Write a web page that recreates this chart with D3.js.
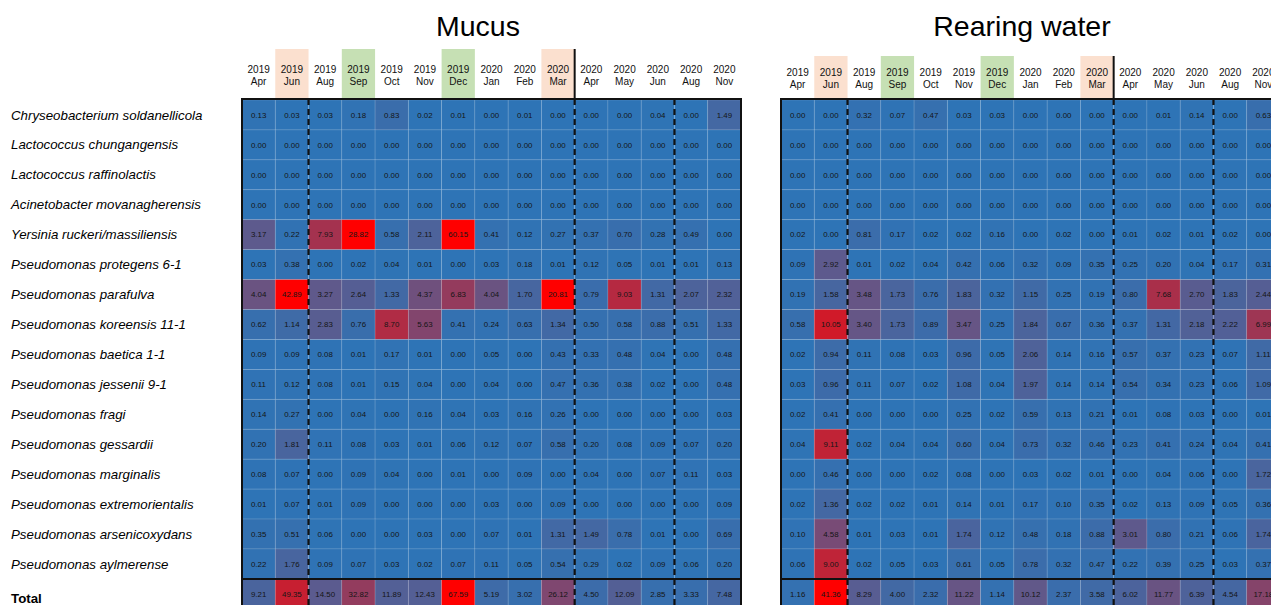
<!DOCTYPE html>
<html><head><meta charset="utf-8">
<script src="https://cdn.jsdelivr.net/npm/d3@7"></script>
<style>
body{margin:0;background:#fff;overflow:hidden}
text{font-family:"Liberation Sans",Arial,sans-serif}
</style></head>
<body>
<svg id="chart" width="1271" height="605"></svg>
<script>
const years = ["2019","2019","2019","2019","2019","2019","2019","2020","2020","2020","2020","2020","2020","2020","2020"];
const months = ["Apr","Jun","Aug","Sep","Oct","Nov","Dec","Jan","Feb","Mar","Apr","May","Jun","Aug","Nov"];
const highlight = ["","peach","","green","","","green","","","peach","","","","",""];
const dashedAfter = [1, 9, 12];
const solidHeaderAfter = [9];
const taxa = ["Chryseobacterium soldanellicola","Lactococcus chungangensis","Lactococcus raffinolactis","Acinetobacter movanagherensis","Yersinia ruckeri/massiliensis","Pseudomonas protegens 6-1","Pseudomonas parafulva","Pseudomonas koreensis 11-1","Pseudomonas baetica 1-1","Pseudomonas jessenii 9-1","Pseudomonas fragi","Pseudomonas gessardii","Pseudomonas marginalis","Pseudomonas extremorientalis","Pseudomonas arsenicoxydans","Pseudomonas aylmerense"];

const mucusValues = [
[0.13,0.03,0.03,0.18,0.83,0.02,0.01,0.00,0.01,0.00,0.00,0.00,0.04,0.00,1.49],
[0,0,0,0,0,0,0,0,0,0,0,0,0,0,0],
[0,0,0,0,0,0,0,0,0,0,0,0,0,0,0],
[0,0,0,0,0,0,0,0,0,0,0,0,0,0,0],
[3.17,0.22,7.93,28.82,0.58,2.11,60.15,0.41,0.12,0.27,0.37,0.70,0.28,0.49,0.00],
[0.03,0.38,0.00,0.02,0.04,0.01,0.00,0.03,0.18,0.01,0.12,0.05,0.01,0.01,0.13],
[4.04,42.89,3.27,2.64,1.33,4.37,6.83,4.04,1.70,20.81,0.79,9.03,1.31,2.07,2.32],
[0.62,1.14,2.83,0.76,8.70,5.63,0.41,0.24,0.63,1.34,0.50,0.58,0.88,0.51,1.33],
[0.09,0.09,0.08,0.01,0.17,0.01,0.00,0.05,0.00,0.43,0.33,0.48,0.04,0.00,0.48],
[0.11,0.12,0.08,0.01,0.15,0.04,0.00,0.04,0.00,0.47,0.36,0.38,0.02,0.00,0.48],
[0.14,0.27,0.00,0.04,0.00,0.16,0.04,0.03,0.16,0.26,0.00,0.00,0.00,0.00,0.03],
[0.20,1.81,0.11,0.08,0.03,0.01,0.06,0.12,0.07,0.58,0.20,0.08,0.09,0.07,0.20],
[0.08,0.07,0.00,0.09,0.04,0.00,0.01,0.00,0.09,0.00,0.04,0.00,0.07,0.11,0.03],
[0.01,0.07,0.01,0.09,0.00,0.00,0.00,0.03,0.00,0.09,0.00,0.00,0.00,0.00,0.09],
[0.35,0.51,0.06,0.00,0.00,0.03,0.00,0.07,0.01,1.31,1.49,0.78,0.01,0.00,0.69],
[0.22,1.76,0.09,0.07,0.03,0.02,0.07,0.11,0.05,0.54,0.29,0.02,0.09,0.06,0.20]
];
const mucusTotal = [9.21,49.35,14.50,32.82,11.89,12.43,67.59,5.19,3.02,26.12,4.50,12.09,2.85,3.33,7.48];

const waterValues = [
[0.00,0.00,0.32,0.07,0.47,0.03,0.03,0.00,0.00,0.00,0.00,0.01,0.14,0.00,0.63],
[0,0,0,0,0,0,0,0,0,0,0,0,0,0,0],
[0,0,0,0,0,0,0,0,0,0,0,0,0,0,0],
[0,0,0,0,0,0,0,0,0,0,0,0,0,0,0],
[0.02,0.00,0.81,0.17,0.02,0.02,0.16,0.00,0.02,0.00,0.01,0.02,0.01,0.02,0.00],
[0.09,2.92,0.01,0.02,0.04,0.42,0.06,0.32,0.09,0.35,0.25,0.20,0.04,0.17,0.31],
[0.19,1.58,3.48,1.73,0.76,1.83,0.32,1.15,0.25,0.19,0.80,7.68,2.70,1.83,2.44],
[0.58,10.05,3.40,1.73,0.89,3.47,0.25,1.84,0.67,0.36,0.37,1.31,2.18,2.22,6.99],
[0.02,0.94,0.11,0.08,0.03,0.96,0.05,2.06,0.14,0.16,0.57,0.37,0.23,0.07,1.11],
[0.03,0.96,0.11,0.07,0.02,1.08,0.04,1.97,0.14,0.14,0.54,0.34,0.23,0.06,1.09],
[0.02,0.41,0.00,0.00,0.00,0.25,0.02,0.59,0.13,0.21,0.01,0.08,0.03,0.00,0.01],
[0.04,9.11,0.02,0.04,0.04,0.60,0.04,0.73,0.32,0.46,0.23,0.41,0.24,0.04,0.41],
[0.00,0.46,0.00,0.00,0.02,0.08,0.00,0.03,0.02,0.01,0.00,0.04,0.06,0.00,1.72],
[0.02,1.36,0.02,0.02,0.01,0.14,0.01,0.17,0.10,0.35,0.02,0.13,0.09,0.05,0.36],
[0.10,4.58,0.01,0.03,0.01,1.74,0.12,0.48,0.18,0.88,3.01,0.80,0.21,0.06,1.74],
[0.06,9.00,0.02,0.05,0.03,0.61,0.05,0.78,0.32,0.47,0.22,0.39,0.25,0.03,0.37]
];
const waterTotal = [1.16,41.36,8.29,4.00,2.32,11.22,1.14,10.12,2.37,3.58,6.02,11.77,6.39,4.54,17.18];

const svg = d3.select("#chart");
const BLUE = "rgb(46,116,182)", RED = "rgb(255,0,0)";
const hlColor = {peach:"#FBE0CF", green:"#C6E0B4"};
const rowKeys = taxa.concat(["Total"]);

const y = d3.scaleBand().domain(rowKeys).range([100, 100 + 17*29.93]);

// row labels
svg.append("g").selectAll("text").data(rowKeys).join("text")
  .attr("x", 11)
  .attr("y", d => y(d) + y.bandwidth()/2 + (d==="Total" ? 9 : 4.6))
  .attr("font-size", 13.3)
  .attr("font-style", d => d==="Total" ? "normal" : "italic")
  .attr("font-weight", d => d==="Total" ? "bold" : "normal")
  .attr("fill", "#000")
  .text(d => d);

function panel(opts){
  const {x0, title, titleX, values, totals, taxaMax, totalMax, hdrTop, yearY} = opts;
  const x = d3.scaleBand().domain(d3.range(15)).range([x0, x0 + 499]);
  const g = svg.append("g");
  const cTaxa = d3.scaleLinear().domain([0, taxaMax]).range([BLUE, RED]).clamp(true);
  const cTot = d3.scaleLinear().domain([0, totalMax]).range([BLUE, RED]).clamp(true);

  g.append("text").attr("x", titleX).attr("y", 36).attr("text-anchor","middle")
    .attr("font-size", 28.5).attr("fill","#000").text(title);

  // header highlights
  g.selectAll("rect.hl").data(d3.range(15).filter(i => highlight[i])).join("rect")
    .attr("x", i => x(i)).attr("y", hdrTop).attr("width", x.bandwidth()).attr("height", 98 - hdrTop)
    .attr("fill", i => hlColor[highlight[i]]);

  const hdr = g.selectAll("g.hdr").data(d3.range(15)).join("g")
    .attr("transform", i => `translate(${x(i) + x.bandwidth()/2},0)`);
  hdr.append("text").attr("y", yearY).attr("text-anchor","middle").attr("font-size",10).attr("fill","#111").text(i => years[i]);
  hdr.append("text").attr("y", yearY + 12).attr("text-anchor","middle").attr("font-size",10).attr("fill","#111").text(i => months[i]);

  const cells = [];
  values.forEach((row, r) => row.forEach((v, c) => cells.push({r: taxa[r], c, v, col: cTaxa(v)})));
  totals.forEach((v, c) => cells.push({r: "Total", c, v, col: cTot(v)}));

  g.selectAll("rect.cell").data(cells).join("rect")
    .attr("x", d => x(d.c)).attr("y", d => y(d.r))
    .attr("width", x.bandwidth()).attr("height", y.bandwidth())
    .attr("fill", d => d.col)
    .attr("stroke", "rgba(255,255,255,0.14)").attr("stroke-width", 0.8);

  g.selectAll("text.val").data(cells).join("text")
    .attr("x", d => x(d.c) + x.bandwidth()/2)
    .attr("y", d => y(d.r) + y.bandwidth()/2 + 2.8)
    .attr("text-anchor","middle").attr("font-size", 7.9).attr("fill","#151515")
    .text(d => d.v.toFixed(2));

  const top = y(taxa[0]) - 1, bottom = y.range()[1];
  dashedAfter.forEach(i => {
    const xx = x(i) + x.bandwidth();
    g.append("line").attr("x1", xx).attr("x2", xx).attr("y1", top).attr("y2", bottom)
      .attr("stroke","#111").attr("stroke-width",2.2).attr("stroke-dasharray","6,4");
  });
  solidHeaderAfter.forEach(i => {
    const xx = x(i) + x.bandwidth();
    g.append("line").attr("x1", xx).attr("x2", xx).attr("y1", hdrTop).attr("y2", top)
      .attr("stroke","#111").attr("stroke-width",2);
  });
  g.append("line").attr("x1", x0).attr("x2", x0 + 499).attr("y1", y("Total")).attr("y2", y("Total"))
    .attr("stroke","#111").attr("stroke-width",2);
  g.append("rect").attr("x", x0).attr("y", top).attr("width", 499).attr("height", bottom - top)
    .attr("fill","none").attr("stroke","#111").attr("stroke-width",2);
}

panel({x0:242, title:"Mucus", titleX:478, values:mucusValues, totals:mucusTotal, taxaMax:14, totalMax:67.59, hdrTop:49, yearY:73});
panel({x0:781, title:"Rearing water", titleX:1022, values:waterValues, totals:waterTotal, taxaMax:13, totalMax:41.36, hdrTop:56, yearY:76});
</script>
</body></html>
